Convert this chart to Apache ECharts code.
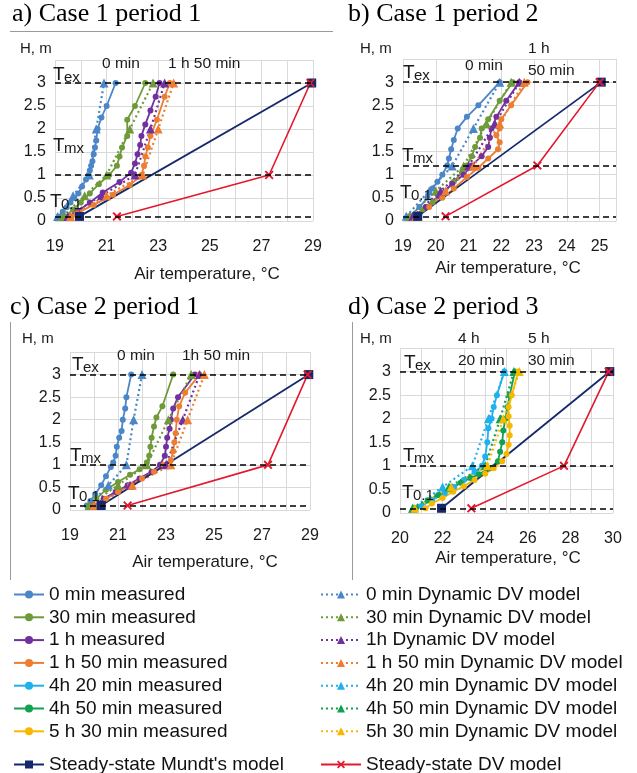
<!DOCTYPE html>
<html>
<head>
<meta charset="utf-8">
<script src="https://cdn.jsdelivr.net/npm/echarts@6/dist/echarts.min.js"></script>
<style>
  html, body { margin: 0; padding: 0; background: #fff; }
  #chart { width: 637px; height: 773px; }
</style>
</head>
<body>
<div id="chart"></div>
<script>
// ---- data: [air temperature °C, height m] ----
// a) Case 1 period 1
const a_m0 = [[19.15,0.1],[19.3,0.2],[19.45,0.3],[19.6,0.4],[19.75,0.5],[19.9,0.6],[20.05,0.75],[20.2,0.9],[20.3,1.0],[20.35,1.1],[20.4,1.2],[20.45,1.3],[20.5,1.45],[20.55,1.6],[20.6,1.75],[20.65,2.0],[20.8,2.25],[21.0,2.5],[21.35,3.0]];
const a_d0 = [[19.1,0.1],[19.7,0.55],[20.33,1.0],[20.6,2.0],[20.9,3.0]];
const a_m30 = [[19.4,0.1],[19.7,0.25],[20.0,0.4],[20.35,0.6],[20.7,0.8],[21.1,1.0],[21.4,1.2],[21.5,1.4],[21.6,1.6],[21.8,1.85],[21.8,2.2],[22.1,2.5],[22.5,3.0]];
const a_d30 = [[19.3,0.1],[20.15,0.55],[21.0,1.0],[21.9,2.0],[22.8,3.0]];
const a_m60 = [[19.6,0.1],[19.85,0.2],[20.35,0.4],[20.85,0.62],[21.5,0.85],[21.95,1.05],[22.1,1.25],[22.2,1.45],[22.3,1.65],[22.35,1.85],[22.5,2.1],[22.7,2.4],[22.9,2.7],[23.05,3.0]];
const a_d60 = [[19.5,0.1],[20.8,0.55],[22.1,1.0],[22.7,2.0],[23.25,3.0]];
const a_m110 = [[19.65,0.1],[19.85,0.17],[20.5,0.35],[21.25,0.57],[21.9,0.78],[22.35,1.0],[22.45,1.2],[22.5,1.4],[22.6,1.6],[22.7,1.85],[22.95,2.2],[23.25,2.7],[23.45,3.0]];
const a_d110 = [[19.6,0.1],[21.0,0.55],[22.4,1.0],[23.0,2.0],[23.6,3.0]];
const a_mundt = [[19.95,0.1],[28.95,3.0]];
const a_dv = [[21.4,0.1],[27.3,1.0],[28.9,3.0]];
const a_ref = [3, 1, 0.1];

// b) Case 1 period 2
const b_m0 = [[19.2,0.1],[19.5,0.3],[19.75,0.5],[19.9,0.7],[20.05,0.85],[20.2,1.0],[20.35,1.2],[20.4,1.35],[20.47,1.55],[20.55,1.75],[20.67,2.0],[20.95,2.25],[21.3,2.5],[21.95,3.0]];
const b_d0 = [[19.1,0.1],[19.8,0.65],[20.5,1.19],[21.15,2.0],[21.95,3.0]];
const b_m30 = [[19.3,0.1],[19.6,0.25],[19.9,0.4],[20.25,0.6],[20.55,0.85],[20.8,1.05],[20.95,1.2],[21.1,1.4],[21.2,1.6],[21.35,1.8],[21.4,2.0],[21.6,2.2],[21.95,2.6],[22.35,3.0]];
const b_d30 = [[19.2,0.1],[20.0,0.65],[20.85,1.19],[21.55,2.1],[22.3,3.0]];
const b_m60 = [[19.35,0.1],[19.7,0.3],[20.1,0.55],[20.5,0.8],[20.85,1.0],[21.1,1.2],[21.4,1.4],[21.6,1.6],[21.65,1.8],[21.7,2.0],[21.85,2.25],[22.15,2.6],[22.55,3.0]];
const b_d60 = [[19.3,0.1],[20.15,0.65],[21.0,1.19],[21.8,2.1],[22.55,3.0]];
const b_m110 = [[19.45,0.1],[19.8,0.3],[20.2,0.5],[20.55,0.7],[20.95,0.95],[21.3,1.15],[21.6,1.35],[21.9,1.55],[21.95,1.7],[21.85,1.85],[21.95,2.0],[22.0,2.2],[22.3,2.5],[22.8,3.0]];
const b_d110 = [[19.4,0.1],[20.3,0.65],[21.15,1.19],[21.95,2.1],[22.7,3.0]];
const b_mundt = [[19.45,0.1],[25.05,3.0]];
const b_dv = [[20.3,0.1],[23.1,1.2],[25.0,3.0]];
const b_ref = [3, 1.19, 0.1];

// c) Case 2 period 1
const c_m0 = [[19.7,0.1],[19.85,0.2],[20.05,0.35],[20.3,0.55],[20.5,0.75],[20.7,0.95],[20.8,1.05],[20.9,1.2],[20.95,1.4],[21.05,1.6],[21.15,1.75],[21.2,2.0],[21.3,2.25],[21.35,2.5],[21.55,3.0]];
const c_d0 = [[19.8,0.1],[20.6,0.55],[21.35,1.0],[21.65,2.0],[22.0,3.0]];
const c_m30 = [[19.8,0.1],[20.1,0.25],[20.5,0.45],[21.0,0.62],[21.5,0.78],[21.9,0.9],[22.2,1.05],[22.3,1.2],[22.35,1.4],[22.4,1.6],[22.5,1.85],[22.6,2.05],[22.85,2.3],[23.3,3.0]];
const c_d30 = [[19.8,0.1],[21.0,0.55],[22.2,1.0],[23.1,2.0],[24.05,3.0]];
const c_m60 = [[20.0,0.1],[20.4,0.25],[20.9,0.4],[21.4,0.55],[21.9,0.7],[22.4,0.85],[22.75,1.0],[22.95,1.2],[23.0,1.4],[23.05,1.6],[23.15,1.8],[23.2,2.0],[23.3,2.25],[23.5,2.5],[24.2,3.0]];
const c_d60 = [[20.0,0.1],[21.5,0.55],[23.0,1.0],[23.7,2.0],[24.4,3.0]];
const c_m110 = [[20.0,0.1],[20.5,0.25],[21.0,0.4],[21.5,0.55],[22.0,0.7],[22.5,0.85],[22.9,1.0],[23.2,1.1],[23.3,1.3],[23.35,1.5],[23.4,1.7],[23.45,2.0],[23.55,2.3],[23.8,2.6],[24.4,3.0]];
const c_d110 = [[20.0,0.1],[21.6,0.55],[23.2,1.0],[23.9,2.0],[24.6,3.0]];
const c_mundt = [[20.3,0.1],[28.95,3.0]];
const c_dv = [[21.4,0.1],[27.25,1.0],[28.9,3.0]];
const c_ref = [3, 1, 0.1];

// d) Case 2 period 3
const d_m260 = [[20.7,0.1],[21.0,0.15],[21.5,0.27],[22.1,0.42],[22.55,0.55],[23.0,0.7],[23.5,0.87],[23.85,1.0],[24.0,1.2],[24.1,1.5],[24.15,1.8],[24.3,2.0],[24.4,2.25],[24.55,2.5],[24.9,3.0]];
const d_d260 = [[20.6,0.1],[22.0,0.55],[23.4,1.0],[24.15,2.0],[24.9,3.0]];
const d_m290 = [[20.75,0.1],[21.3,0.27],[21.8,0.38],[22.3,0.5],[22.85,0.64],[23.3,0.74],[23.7,0.82],[24.2,0.95],[24.6,1.1],[24.7,1.3],[24.8,1.5],[24.85,1.75],[24.95,2.0],[25.05,2.25],[25.15,2.5],[25.4,3.0]];
const d_d290 = [[20.6,0.1],[22.3,0.55],[24.0,1.0],[24.7,2.0],[25.35,3.0]];
const d_m330 = [[21.2,0.1],[21.5,0.2],[22.0,0.32],[22.5,0.45],[23.0,0.57],[23.5,0.7],[24.0,0.83],[24.4,0.95],[24.8,1.1],[25.0,1.25],[25.1,1.45],[25.15,1.65],[25.15,1.85],[25.1,2.05],[25.1,2.25],[25.25,2.5],[25.55,3.0]];
const d_d330 = [[20.7,0.1],[22.4,0.55],[24.1,1.0],[24.85,2.0],[25.6,3.0]];
const d_mundt = [[21.95,0.1],[29.85,3.0]];
const d_dv = [[23.35,0.1],[27.7,1.0],[29.8,3.0]];
const d_ref = [3, 1, 0.1];

// axis ranges [min, max]
const xRanges = [[19, 29], [19, 25.5], [19, 29], [20, 30]];
const xLabelStep = [2, 1, 2, 2];
const yTicks = [0, 0.5, 1, 1.5, 2, 2.5, 3];

// legend names
const measNames = ['0 min measured', '30 min measured', '1 h measured', '1 h 50 min measured',
  '4h 20 min measured', '4h 50 min measured', '5 h 30 min measured'];
const modelNames = ['0 min Dynamic DV model', '30 min Dynamic DV model', '1h Dynamic DV model',
  '1 h 50 min Dynamic DV model', '4h 20 min Dynamic DV model', '4h 50 min Dynamic DV model',
  '5h 30 min Dynamic DV model'];
const mundtName = "Steady-state Mundt's model";
const dvName = 'Steady-state DV model';
const colors = ['#4a86c8', '#6f9a3a', '#7030a0', '#ed7d31', '#1fb0ee', '#12a150', '#f8b800'];

const FONT = 'Liberation Sans';
const X_SYMBOL = 'path://M0,1.5L1.5,0L5,3.5L8.5,0L10,1.5L6.5,5L10,8.5L8.5,10L5,6.5L1.5,10L0,8.5L3.5,5Z';

// grids in px
const grids = [
  {left: 55, top: 60, width: 258, height: 161},
  {left: 403, top: 59, width: 213, height: 162},
  {left: 70, top: 352, width: 240, height: 158},
  {left: 400, top: 348, width: 213, height: 165}
];

const panelData = [
  {meas: [[0, a_m0], [1, a_m30], [2, a_m60], [3, a_m110]], model: [[0, a_d0], [1, a_d30], [2, a_d60], [3, a_d110]], mundt: a_mundt, dv: a_dv, ref: a_ref},
  {meas: [[0, b_m0], [1, b_m30], [2, b_m60], [3, b_m110]], model: [[0, b_d0], [1, b_d30], [2, b_d60], [3, b_d110]], mundt: b_mundt, dv: b_dv, ref: b_ref},
  {meas: [[0, c_m0], [1, c_m30], [2, c_m60], [3, c_m110]], model: [[0, c_d0], [1, c_d30], [2, c_d60], [3, c_d110]], mundt: c_mundt, dv: c_dv, ref: c_ref},
  {meas: [[4, d_m260], [5, d_m290], [6, d_m330]], model: [[4, d_d260], [5, d_d290], [6, d_d330]], mundt: d_mundt, dv: d_dv, ref: d_ref}
];

function build_series() {
  let series = [];
  panelData.forEach(function (p, i) {
    p.meas.forEach(function (m) {
      series.push({
        name: measNames[m[0]], type: 'line', xAxisIndex: i, yAxisIndex: i, data: m[1],
        symbol: 'circle', symbolSize: 6, color: colors[m[0]],
        lineStyle: {width: 1.8}, animation: false
      });
    });
    p.model.forEach(function (m) {
      series.push({
        name: modelNames[m[0]], type: 'line', xAxisIndex: i, yAxisIndex: i, data: m[1],
        symbol: 'triangle', symbolSize: 9, color: colors[m[0]],
        lineStyle: {width: 2.2, type: [2, 3]}, animation: false
      });
    });
    series.push({
      name: mundtName, type: 'line', xAxisIndex: i, yAxisIndex: i, data: p.mundt,
      symbol: 'rect', symbolSize: 9, color: '#14296b', lineStyle: {width: 1.8}, animation: false,
      markLine: {
        silent: true, symbol: ['none', 'none'], label: {show: false}, animation: false,
        lineStyle: {color: '#000', type: [6, 4], width: 1.5},
        data: p.ref.map(h => ({yAxis: h}))
      }
    });
    series.push({
      name: dvName, type: 'line', xAxisIndex: i, yAxisIndex: i, data: p.dv,
      symbol: X_SYMBOL, symbolSize: 9, color: '#e3182d', lineStyle: {width: 1.6}, animation: false
    });
  });
  return series;
}

function text(x, y, s, size, align) {
  return {
    type: 'text', x: x, y: y, z: 100, silent: true,
    style: {text: s, fontSize: size, fontFamily: FONT, fill: '#1a1a1a', verticalAlign: 'top', align: align || 'left'}
  };
}

function sub_label(x, y, sub) {
  // T with subscript
  return [text(x, y, 'T', 19), text(x + 11, y + 5, sub, 15)];
}

function build_graphics() {
  let g = [];
  const serif = 'Liberation Serif';
  const titles = [['a) Case 1 period 1', 12, 1], ['b) Case 1 period 2', 348, 1],
    ['c) Case 2 period 1', 10, 294], ['d) Case 2 period 3', 348, 294]];
  titles.forEach(t => {
    g.push({type: 'text', x: t[1], y: t[2], z: 100, silent: true,
      style: {text: t[0], fontSize: 26, fontFamily: serif, fill: '#000', verticalAlign: 'top'}});
  });
  // axis names
  [[20, 41], [360, 41], [22, 331], [360, 331]].forEach(p => g.push(text(p[0], p[1], 'H, m', 15)));
  [[207, 266], [508, 260], [205, 554], [508, 550]].forEach(p => g.push(text(p[0], p[1], 'Air temperature, °C', 17, 'center')));
  // T labels
  [[53, 65], [403, 63], [72, 355], [404, 353]].forEach(p => g.push(...sub_label(p[0], p[1], 'ex')));
  [[53, 136], [402, 146], [70, 446], [403, 446]].forEach(p => g.push(...sub_label(p[0], p[1], 'mx')));
  [[50, 192], [400, 183], [68, 484], [402, 483]].forEach(p => g.push(...sub_label(p[0], p[1], '0.1')));
  // time annotations
  g.push(text(102, 56, '0 min', 15.5), text(168, 56, '1 h 50 min', 15.5));
  g.push(text(465, 58, '0 min', 15.5), text(528, 41, '1 h', 15.5), text(528, 63, '50 min', 15.5));
  g.push(text(117, 348, '0 min', 15.5), text(182, 348, '1h 50 min', 15.5));
  g.push(text(458, 331, '4 h', 15.5), text(458, 353, '20 min', 15.5), text(528, 331, '5 h', 15.5), text(528, 353, '30 min', 15.5));
  // image frame lines
  const frame = {stroke: '#9a9a9a', lineWidth: 1};
  g.push({type: 'line', silent: true, shape: {x1: 10, y1: 31.5, x2: 333, y2: 31.5}, style: frame});
  g.push({type: 'line', silent: true, shape: {x1: 10.5, y1: 322, x2: 10.5, y2: 580}, style: frame});
  g.push({type: 'line', silent: true, shape: {x1: 352.5, y1: 322, x2: 352.5, y2: 580}, style: frame});
  return g;
}

function build_option() {
  const legendText = {fontSize: 19, fontFamily: FONT, color: '#111'};
  const legendBase = {orient: 'vertical', itemWidth: 30, itemHeight: 10, itemGap: 3.8,
    selectedMode: false, textStyle: legendText, padding: 0};
  return {
    backgroundColor: '#fff',
    animation: false,
    grid: grids,
    xAxis: xRanges.map((r, i) => ({
      type: 'value', gridIndex: i, min: r[0], max: r[1], interval: 1,
      axisLine: {show: false}, axisTick: {show: false},
      splitLine: {lineStyle: {color: '#d9d9d9'}},
      axisLabel: {
        interval: 0, margin: 18, fontSize: 16, fontFamily: FONT, color: '#1a1a1a',
        formatter: v => (Number.isInteger(v) && (v - r[0]) % xLabelStep[i] === 0) ? String(v) : ''
      }
    })),
    yAxis: grids.map((g, i) => ({
      type: 'value', gridIndex: i, min: 0, max: 3.5, interval: 0.5,
      axisLine: {show: false}, axisTick: {show: false},
      splitLine: {lineStyle: {color: '#d9d9d9'}},
      axisLabel: {
        margin: 9, fontSize: 16, fontFamily: FONT, color: '#1a1a1a',
        formatter: v => yTicks.indexOf(v) >= 0 ? String(v) : ''
      }
    })),
    legend: [
      Object.assign({}, legendBase, {left: 13, top: 585, data: measNames}),
      Object.assign({}, legendBase, {left: 320, top: 585, data: modelNames, itemWidth: 40}),
      Object.assign({}, legendBase, {left: 13, top: 755, data: [mundtName]}),
      Object.assign({}, legendBase, {left: 320, top: 755, data: [dvName], itemWidth: 40})
    ],
    graphic: build_graphics(),
    series: build_series()
  };
}

let chart = echarts.init(document.getElementById('chart'), null, {renderer: 'canvas'});
chart.setOption(build_option());
</script>
</body>
</html>
